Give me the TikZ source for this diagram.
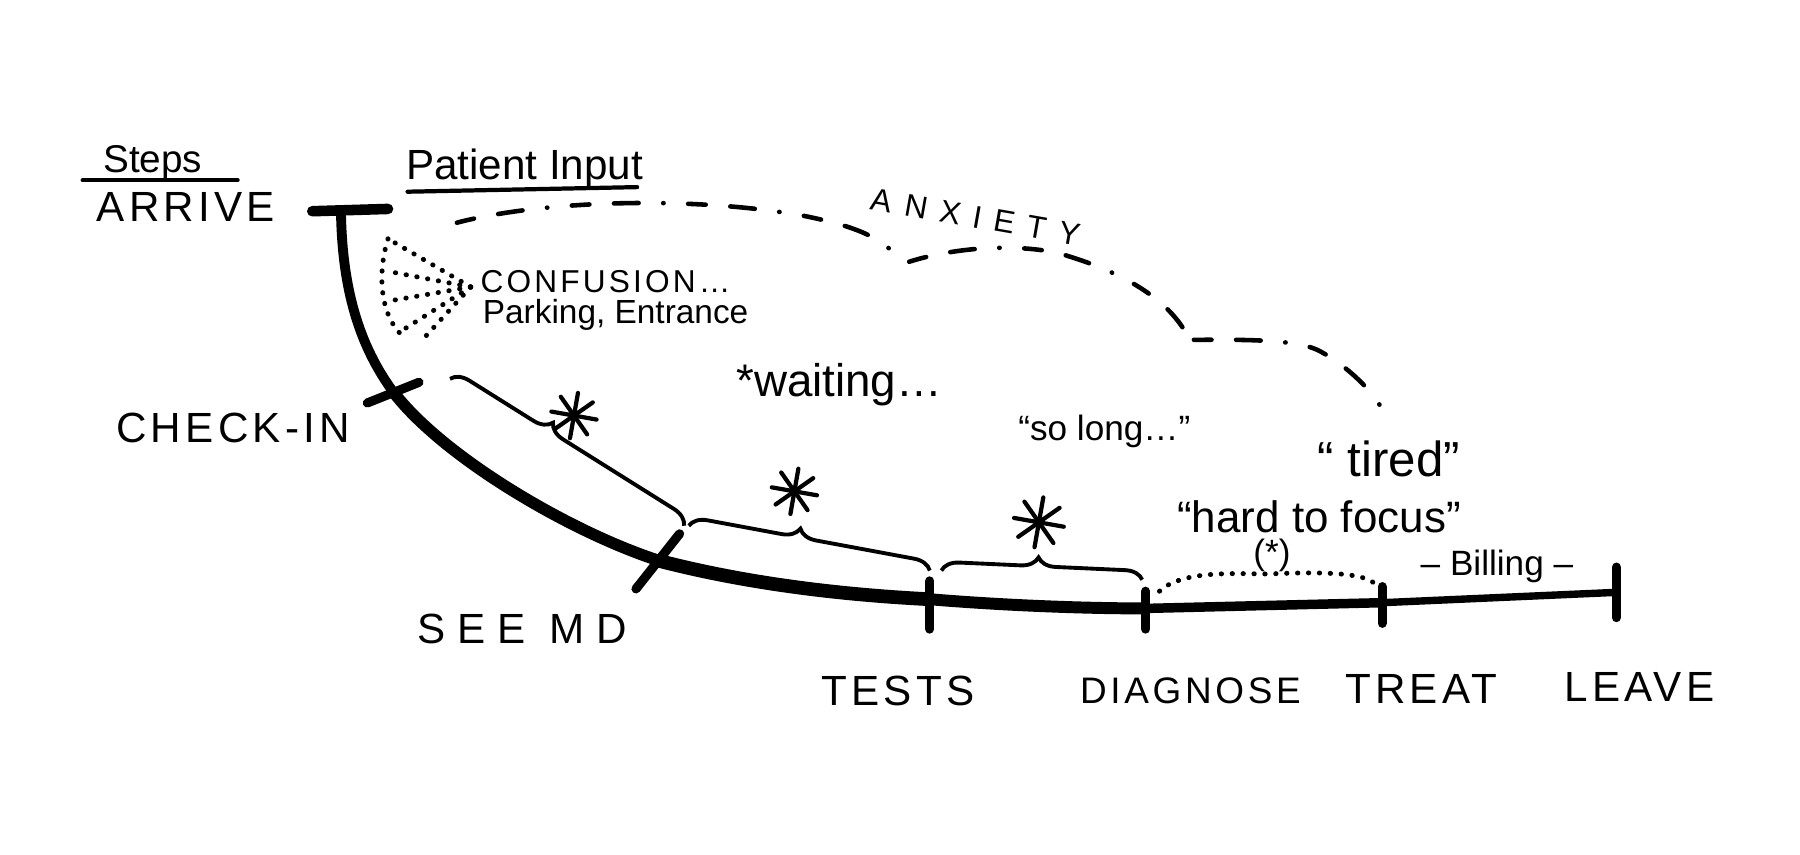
\documentclass[tikz,border=0pt]{standalone}
\usepackage{fontspec}
\setmainfont{Liberation Sans}
\newfontfamily\capsfont[LetterSpace=10]{Liberation Sans}
\usetikzlibrary{decorations.pathreplacing}

\begin{document}
\begin{tikzpicture}[
                    x=0.01148cm, y=-0.01148cm,
                    stage/.style={font=\capsfont\fontsize{#1}{#1}\selectfont, inner sep=0pt},
                    stage/.default=12,
                    note/.style={font=\fontsize{#1}{#1}\selectfont, inner sep=0pt},
                    note/.default=12,
                    track/.style={line width=#1, line cap=round},
                    tick/.style={line width=2.6pt, line cap=round},
                    rule/.style={line width=1.2pt, line cap=round},
                    worry/.style={line width=1.3pt, line cap=round, dash pattern=on 5pt off 7pt on 7pt off 7pt on 0.1pt off 7pt},
                    haze/.style={line width=1.4pt, line cap=round, dash pattern=on 0.1pt off 3pt},
                    wait/.style={decorate, decoration={brace, amplitude=5pt, aspect=#1}, line width=1.1pt}
                ]
                \useasboundingbox (0,0) rectangle (1568,744);

                % steps along the visit
                \coordinate (arrive) at (297,184);
                \coordinate (checkin) at (343,342);
                \coordinate (seemd) at (576,489);
                \coordinate (tests) at (810,522);
                \coordinate (diagnose) at (998,530);
                \coordinate (treat) at (1204,525);
                \coordinate (leave) at (1408,516);

                \draw[track=2.8pt] (arrive) .. controls (298,250) and (312,300) .. (checkin);
                \draw[track=3.3pt] (checkin) .. controls (388,400) and (500,465) .. (seemd);
                \draw[track=3.9pt] (seemd) .. controls (650,508) and (730,518) .. (tests);
                \draw[track=3.4pt] (tests) .. controls (870,527) and (940,530) .. (diagnose);
                \draw[track=2.7pt] (diagnose) -- (treat);
                \draw[track=2.1pt] (treat) -- (leave);

                \draw[track=3pt] (arrive) ++(-25,0) -- ++(66,-2);
                \draw[tick] (checkin) ++(-23,9) -- ++(45,-18);
                \draw[tick] (seemd) ++(-22,24) -- ++(38,-48);
                \foreach \s/\a/\b in {tests/-16/26, diagnose/-15/18, treat/-14/18, leave/-22/22}{
                        \draw[tick] (\s) ++(0,\a) -- ++(0,\b-\a);
                    }

                \node[note=11] (steps) at (133,142) {Steps};
                \draw[rule] (72,157) -- (207,157);
                \node[stage] (arrivelbl) at (162,180) {ARRIVE};
                \node[stage] (checkinlbl) at (203,373) {CHECK-IN};
                \node[stage] (seemdlbl) at (455,548) {\addfontfeature{LetterSpace=28}SEE MD};
                \node[stage] (testslbl) at (782,602) {TESTS};
                \node[stage=10.5] (diagnoselbl) at (1037,602) {DIAGNOSE};
                \node[stage] (treatlbl) at (1238,600) {TREAT};
                \node[stage] (leavelbl) at (1428,598) {LEAVE};

                % patient side
                \node[note=12] (input) at (457,147) {Patient Input};
                \draw[rule] (355,167) -- (555,163);

                \draw[worry] (398,194) .. controls (470,175) and (600,170) .. (700,188) .. controls (740,196) and (765,205) .. (780,222);
                \draw[worry] (792,228) .. controls (830,216) and (880,212) .. (920,220) .. controls (970,234) and (1010,255) .. (1030,285);
                \draw[worry] (1040,296) .. controls (1080,296) and (1130,295) .. (1150,306) .. controls (1175,320) and (1195,340) .. (1205,358);
                \node[stage=9, rotate=-10] (anxiety) at (850,189) {\addfontfeature{LetterSpace=40}ANXIETY};

                \coordinate (fan) at (410,250);
                \foreach \p in {(338,208), (336,236), (340,262), (350,288), (368,296)}{
                        \draw[haze] (fan) -- \p;
                    }
                \draw[haze] (338,208) .. controls (328,240) and (332,275) .. (350,292);
                \node[stage=9, anchor=west] (confusion) at (418,245) {CONFUSION\ldots};
                \node[note=9.5, anchor=west] (parking) at (420,274) {Parking, Entrance};

                \draw[wait=0.4] (392,330) -- (596,458);
                \draw[wait=0.45] (600,458) -- (810,497);
                \draw[wait=0.48] (820,497) -- (995,505);
                \coordinate (star1) at (500,362);
                \coordinate (star2) at (692,428);
                \coordinate (star3) at (905,455);
                \foreach \p/\r in {star1/20, star2/20, star3/22}{
                        \foreach \a in {10,55,100,145}{
                                \draw[rule] (\p) ++(\a:\r) -- ++(\a+180:2*\r);
                            }
                    }

                \node[note=13] (waiting) at (731,335) {*waiting\ldots};
                \node[note=10] (solong) at (962,376) {“so long\ldots”};
                \node[note=14] (tired) at (1210,400) {“ tired”};
                \node[note=12.5] (focus) at (1149,450) {“hard to focus”};
                \node[note=10] (starnote) at (1108,484) {(*)};
                \draw[haze] (diagnose) ++(12,-15) .. controls (1030,496) and (1080,500) .. (1105,500) .. controls (1150,498) and (1195,498) .. (1200,512);
                \node[note=10] (billing) at (1304,493) {– Billing –};
            \end{tikzpicture}
\end{document}
